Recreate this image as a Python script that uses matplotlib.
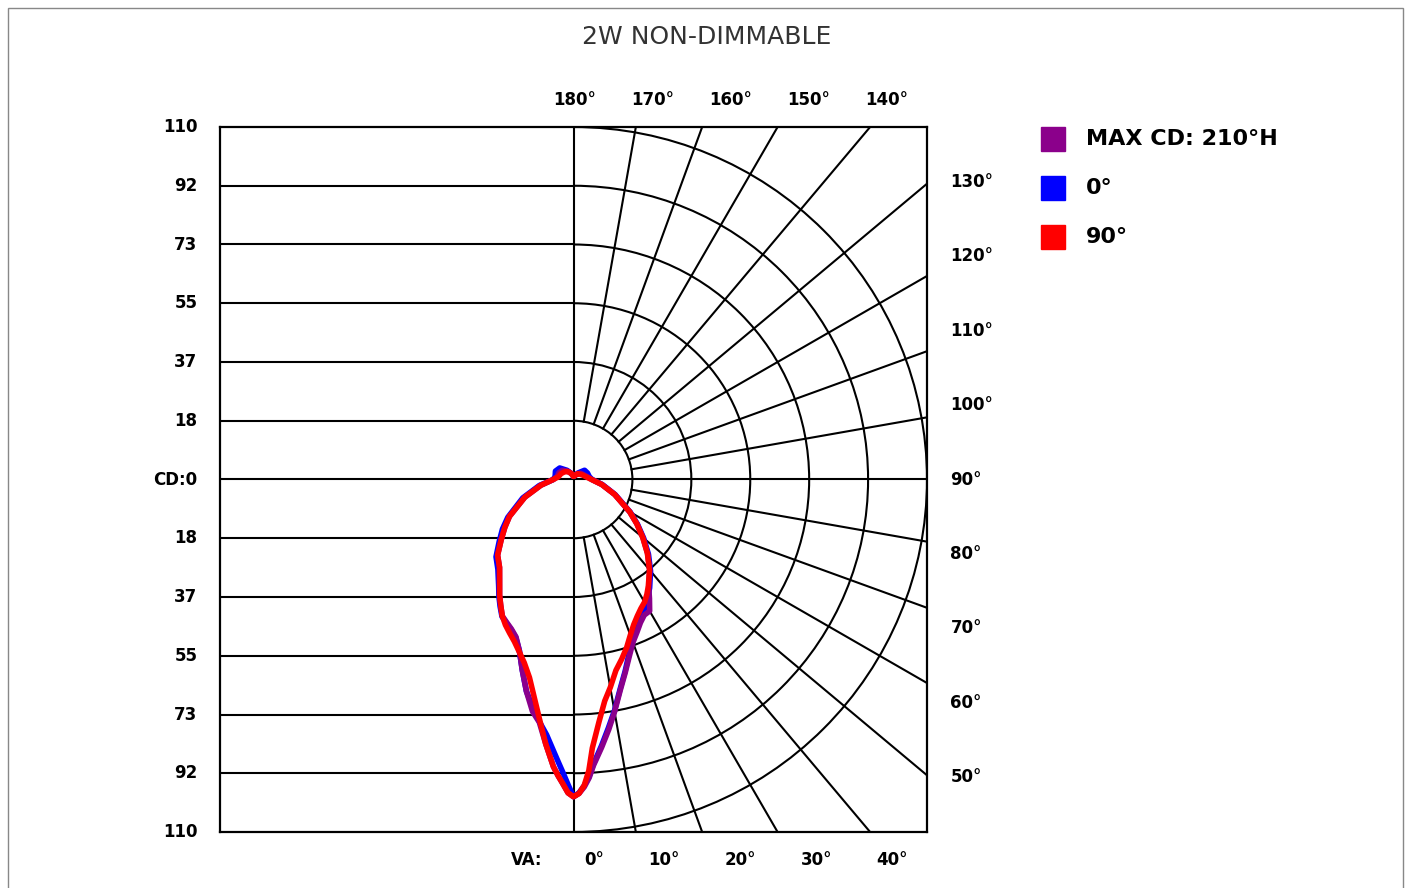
import numpy as np
import matplotlib.pyplot as plt
from matplotlib.patches import Rectangle, Arc

# vertical angle (0 = straight down) and candela, left / right half of each plane
gamma = [0, 1, 2, 3, 4, 6, 8, 10, 12.5, 15, 17.5, 20, 22.5, 25, 27.5, 30, 32.5, 35,
         40, 45, 50, 55, 60, 70, 80, 90, 100, 115, 130, 145, 160, 180]

maxcd_left = [99, 97.8, 95, 92.5, 89.8, 82.9, 76.5, 73.5, 67.7, 61.6, 56, 52.3, 50.5, 49.2, 48, 45.3,
              42.8, 40.1, 35.8, 33.4, 29.4, 26.1, 23, 16.1, 10.3, 6.3, 5.2, 5, 4.5, 3.2, 2, 1]
maxcd_right = [99, 98, 96, 93.2, 89.4, 84, 78.8, 73.6, 67.3, 62.3, 57.8, 54.1, 51.6, 49.3, 47.7, 47.4,
               44, 40.8, 36.9, 32.6, 28.2, 24.1, 20.2, 13.7, 9, 5.7, 4.5, 3.5, 3, 2.2, 1.3, 1]
c0_left = [99, 95.3, 91.7, 88.5, 85.5, 80.1, 76.3, 72.5, 67.7, 61.6, 56, 52.5, 50.7, 49.4, 48.2, 45.7,
           43.2, 40.6, 36.6, 34.1, 30.2, 27, 23.6, 16.8, 10.8, 6.3, 5.8, 6.2, 5.6, 3.5, 2, 1]
c0_right = [99, 97.8, 95.6, 92.8, 89, 83.5, 78.2, 73.3, 67, 62, 57.3, 53.6, 51, 48.8, 46.8, 45.2,
            43.2, 41.3, 37.3, 33, 28.5, 24.3, 20.4, 13.8, 9.1, 5.8, 5, 4.8, 4.5, 2.5, 1.5, 1]
c90_left = [99, 97.8, 95, 92.5, 89.8, 82.9, 75.7, 69.6, 63.3, 59.2, 56.3, 53.8, 51.9, 50.1, 48, 45.3,
            42.8, 40.1, 35.8, 33.4, 29.4, 26.1, 23, 16.1, 10.3, 6.3, 4.8, 4.3, 3.7, 3, 2, 1]
c90_right = [99, 98, 95.5, 91, 84, 76, 69.8, 65.9, 61, 58, 55, 51.7, 49, 47, 45.4, 44.2,
             42.5, 40.6, 36.8, 32.5, 28.1, 24, 20.2, 13.6, 8.9, 5.6, 4.2, 3.2, 2.6, 2.2, 1.3, 1]

series_names = ['MAX CD: 210°H', '0°', '90°']
series_colors = ['#8b008b', '#0000ff', '#ff0000']

cd_max = 110
cd_labels = ['110', '92', '73', '55', '37', '18', 'CD:0', '18', '37', '55', '73', '92', '110']
top_angles = [180, 170, 160, 150, 140]
right_angles = [130, 120, 110, 100, 90, 80, 70, 60, 50]
bottom_angles = [0, 10, 20, 30, 40]

W, H = 1410, 888
fig = plt.figure(figsize=(W / 100, H / 100), dpi=100)
ax = fig.add_axes([220 / W, 56 / H, 707 / W, 705 / H])
ax.set_xlim(-cd_max, cd_max)
ax.set_ylim(-cd_max, cd_max)
ax.set_xticks([])
ax.set_yticks([])
for s in ax.spines.values():
    s.set_linewidth(1.6)

step = cd_max / 6
gl = dict(color='black', lw=1.5, zorder=1)

# left side: horizontal lines
for k in range(1, 6):
    ax.plot([-cd_max, 0], [k * step, k * step], **gl)
    ax.plot([-cd_max, 0], [-k * step, -k * step], **gl)
ax.plot([-cd_max, cd_max], [0, 0], **gl)
ax.plot([0, 0], [-cd_max, cd_max], **gl)

# right side: polar grid
for k in range(1, 7):
    ax.add_patch(Arc((0, 0), 2 * k * step, 2 * k * step, theta1=-90, theta2=90,
                     color='black', lw=1.5, zorder=1))
for g in range(10, 180, 10):
    if g == 90:
        continue
    t = np.radians(g)
    r_end = min(cd_max / abs(np.sin(t)), cd_max / abs(np.cos(t)))
    ax.plot([step * np.sin(t), r_end * np.sin(t)],
            [-step * np.cos(t), -r_end * np.cos(t)], **gl)

# curves: blue under purple, red on top
ga = np.radians(gamma)
curves = [(maxcd_left, maxcd_right), (c0_left, c0_right), (c90_left, c90_right)]
zorders = [4, 3, 5]
for i in range(3):
    left, right = curves[i]
    left = np.array(left)
    right = np.array(right)
    x = np.concatenate([-(left * np.sin(ga))[::-1], right * np.sin(ga)])
    y = np.concatenate([-(left * np.cos(ga))[::-1], -right * np.cos(ga)])
    ax.plot(x, y, color=series_colors[i], lw=4, solid_joinstyle='round',
            solid_capstyle='round', zorder=zorders[i])

# labels
lab = dict(fontsize=12, fontweight='bold', color='black', clip_on=False)
for k, txt in enumerate(cd_labels):
    ax.text(-117, cd_max - k * step, txt, ha='right', va='center', **lab)
for k, a in enumerate(top_angles):
    ax.text(0.3 + k * 24.3, 118.3, f'{a}°', ha='center', va='center', **lab)
for a in right_angles:
    ax.text(117.3, (a - 90) / 10 * 23.2, f'{a}°', ha='left', va='center', **lab)
ax.text(-14.6, -118.7, 'VA:', ha='center', va='center', **lab)
for a, xp in zip(bottom_angles, [6.4, 28.2, 52.0, 75.7, 99.2]):
    ax.text(xp, -118.7, f'{a}°', ha='center', va='center', **lab)

# legend
for i, name in enumerate(series_names):
    yc = 139 + i * 49
    fig.patches.append(Rectangle((1041 / W, 1 - (yc + 12) / H), 24 / W, 24 / H,
                                 transform=fig.transFigure, color=series_colors[i]))
    fig.text(1086 / W, 1 - yc / H, name, ha='left', va='center',
             fontsize=16, fontweight='bold')

fig.text(707 / W, 1 - 37 / H, '2W NON-DIMMABLE', ha='center', va='center',
         fontsize=18, fontweight='normal', family='DejaVu Sans', color='#333333')

fig.patches.append(Rectangle((8 / W, -0.05), 1395 / W, 1.05 - 8 / H, transform=fig.transFigure,
                             fill=False, edgecolor='#888888', lw=1))

fig.savefig('out.png', dpi=100)
